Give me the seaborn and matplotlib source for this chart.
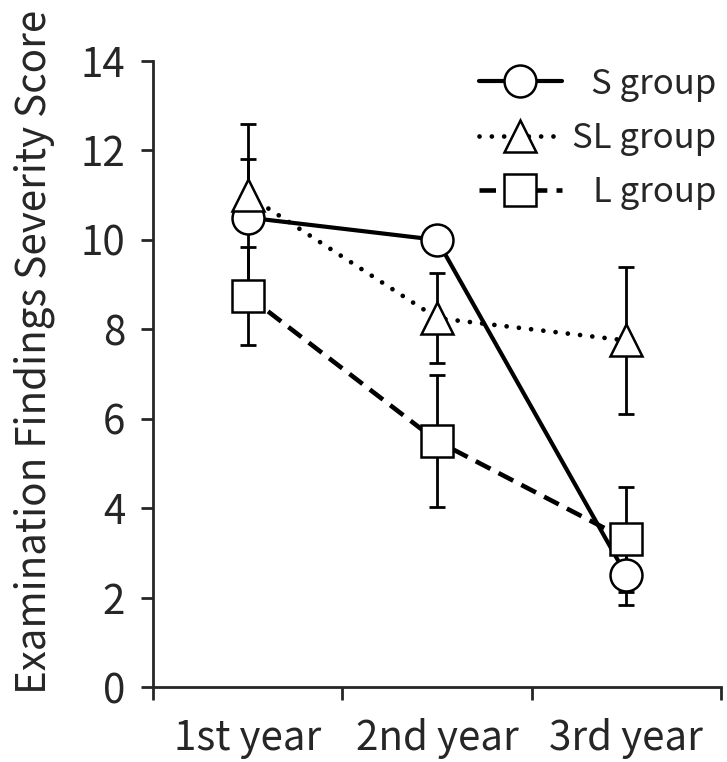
import matplotlib
matplotlib.use("Agg")
import matplotlib.pyplot as plt
import pandas as pd
import seaborn as sns

# values (mean +/- error)
years = ["1st year", "2nd year", "3rd year"]
groups = ["S group", "SL group", "L group"]
s_mean = [10.5, 10.0, 2.5]
s_err = [2.1, 0.3, 0.67]
sl_mean = [11.0, 8.25, 7.75]
sl_err = [0.8, 1.0, 1.65]
l_mean = [8.75, 5.5, 3.3]
l_err = [1.1, 1.47, 1.18]

means = {"S group": s_mean, "SL group": sl_mean, "L group": l_mean}
errs = {"S group": s_err, "SL group": sl_err, "L group": l_err}

df = pd.DataFrame(
    [(g, y, m) for g in groups for y, m in zip(years, means[g])],
    columns=["group", "year", "score"],
)

sns.set_theme(style="ticks")
plt.rcParams["font.family"] = ["Noto Sans CJK JP", "DejaVu Sans"]

fig = plt.figure(figsize=(7.27, 7.62), dpi=100)
ax = fig.add_axes([0.2105, 0.0984, 0.7813, 0.8215])

# error bars underneath the markers
for g in groups:
    ax.errorbar(range(len(years)), means[g], yerr=errs[g], fmt="none",
                ecolor="black", elinewidth=2, capsize=6, capthick=2,
                zorder=1)

sns.lineplot(
    data=df, x="year", y="score", hue="group", style="group",
    hue_order=groups, style_order=groups,
    palette=["black"] * 3,
    markers={"S group": "o", "SL group": "^", "L group": "s"},
    dashes={"S group": "", "SL group": (0.01, 2.6), "L group": (3.6, 2.0)},
    markersize=23, markerfacecolor="white", markeredgecolor="black",
    markeredgewidth=1.8, linewidth=3,
    legend=False, ax=ax,
)
for ln in ax.lines[-3:]:
    ln.set_zorder(3)
ax.lines[-2].set_dash_capstyle("round")
ax.lines[-2].set_linewidth(3.4)
ax.lines[-1].set_dash_capstyle("butt")
ax.lines[-1].set_linewidth(3.3)

ax.set_ylim(0, 14)
ax.set_yticks(range(0, 15, 2))
ax.set_xlim(-0.5, 2.5)
ax.set_xticks([-0.5, 0.5, 1.5, 2.5])
ax.set_xticklabels([])
ax.set_xticks(range(len(years)), minor=True)
ax.set_xticklabels(years, minor=True)
ax.tick_params(axis="x", which="minor", length=0, pad=22, labelsize=29)
ax.tick_params(axis="x", which="major", length=9, width=2, direction="out")
ax.tick_params(axis="y", length=9, width=2, pad=11, labelsize=29)
ax.set_xlabel("")
ax.set_ylabel("Examination Findings Severity Score", fontsize=29)
ax.yaxis.set_label_coords(-0.172, 0.535)
for side in ["left", "bottom"]:
    ax.spines[side].set_linewidth(2)
sns.despine(ax=ax)

leg = ax.legend(
    handles=ax.lines[-3:], labels=groups, loc="upper right",
    bbox_to_anchor=(1.035, 1.03), frameon=False, fontsize=25,
    handlelength=2.4, handletextpad=0.3, labelspacing=0.55, borderpad=0.2,
)

# right-align the legend texts while keeping the handles in one column
fig.canvas.draw()
r = fig.canvas.get_renderer()
widths = [t.get_window_extent(r).width for t in leg.get_texts()]
rows = leg._legend_handle_box.get_children()[0].get_children()
for row, w in zip(rows, widths):
    row.sep += (max(widths) - w) * 72 / fig.dpi

fig.savefig("out.png", dpi=100)
